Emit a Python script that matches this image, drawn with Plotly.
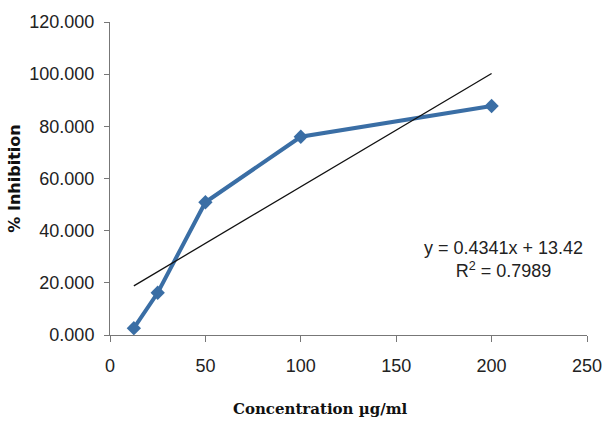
import plotly.graph_objects as go

concentration = [12.5, 25, 50, 100, 200]
inhibition = [2.6, 16.2, 50.9, 76.0, 87.8]
trend_slope = 0.4341
trend_intercept = 13.42
r_squared = 0.7989
x_ticks = [0, 50, 100, 150, 200, 250]
y_ticks = [0, 20, 40, 60, 80, 100, 120]

trend_y = [trend_slope * x + trend_intercept for x in concentration]

tick_font = dict(family="Liberation Sans Narrow, Liberation Sans, sans-serif", size=18, color="#222")

fig = go.Figure()
fig.add_trace(go.Scatter(
    x=concentration, y=inhibition, mode="lines+markers",
    line=dict(color="#3A6EA5", width=4),
    marker=dict(symbol="diamond", size=11, color="#3A6EA5"),
    showlegend=False,
))
fig.add_trace(go.Scatter(
    x=[concentration[0], concentration[-1]], y=[trend_y[0], trend_y[-1]], mode="lines",
    line=dict(color="#111", width=1.3),
    showlegend=False,
))

fig.add_annotation(
    x=206, y=29, xref="x", yref="y",
    text=f"y = {trend_slope}x + {trend_intercept}<br>R<sup>2</sup> = {r_squared}",
    showarrow=False, font=tick_font, align="center",
)

# x-axis title, placed slightly left of centre as in the reference
fig.add_annotation(
    x=0.442, y=-0.238, xref="paper", yref="paper",
    text="<b>Concentration µg/ml</b>", showarrow=False,
    font=dict(family="DejaVu Serif, Liberation Serif, serif", size=15, color="#111"),
    xanchor="center", yanchor="middle",
)

fig.update_layout(
    width=606, height=422,
    margin=dict(l=110, r=19, t=22, b=87),
    plot_bgcolor="white", paper_bgcolor="white",
    xaxis=dict(
        range=[0, 250], tickvals=x_ticks, ticktext=[str(v) for v in x_ticks],
        showgrid=False, zeroline=False, showline=True, linecolor="#777", linewidth=1,
        ticks="outside", ticklen=6, tickcolor="#777", tickfont=tick_font,
        ticklabelstandoff=8, automargin=False,
    ),
    yaxis=dict(
        range=[0, 120], tickvals=y_ticks, ticktext=[f"{v:.3f}" for v in y_ticks],
        showgrid=False, zeroline=False, showline=True, linecolor="#777", linewidth=1,
        ticks="outside", ticklen=5, tickcolor="#777", tickfont=tick_font,
        ticklabelstandoff=6, automargin=False,
        title=dict(text="<b>% Inhibition</b>",
                   font=dict(family="DejaVu Sans, Verdana, sans-serif", size=16, color="#111"),
                   standoff=4),
    ),
)

fig.write_html("out.html")
